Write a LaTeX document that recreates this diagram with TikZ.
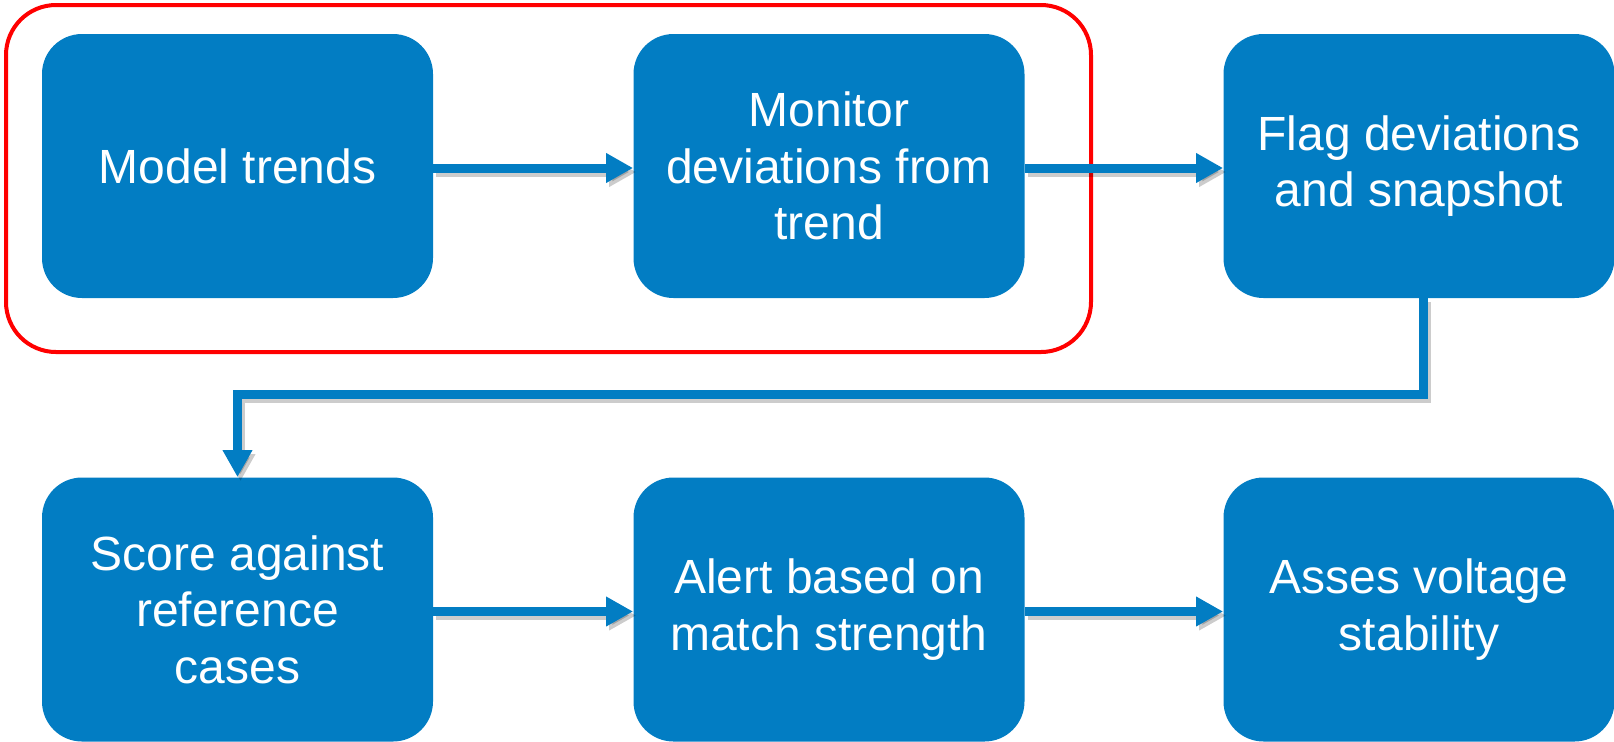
\documentclass[tikz,border=0pt]{standalone}
\usepackage{fontspec}
\setmainfont{Liberation Sans}
\usetikzlibrary{arrows.meta}
\definecolor{boxblue}{RGB}{2,125,195}

\begin{document}
\begin{tikzpicture}[x=0.5pt,y=-0.5pt,
  stepbox/.style={fill=boxblue,rounded corners=20pt,minimum width=195.5pt,
    minimum height=132pt,inner sep=0pt,align=center,text=white,
    font=\fontsize{24}{28.3}\selectfont},
  flow/.style={draw=boxblue,line width=4.5pt,
    -{Triangle[length=13.5pt,width=14pt]},
    preaction={draw=black,opacity=.2,line width=4.5pt,
      -{Triangle[length=13.5pt,width=14pt]},
      transform canvas={shift={(1.5pt,-2pt)}}}}
]
\useasboundingbox (0,0) rectangle (1614,741);
% frame round the first two steps
\draw[red,line width=2pt,rounded corners=25pt] (6,5) rectangle (1091,352);
% top row
\node[stepbox] (trend)   at (237.5,166) {Model trends};
\node[stepbox] (monitor) at (829,166)   {Monitor\\deviations from\\trend};
\node[stepbox] (flag)    at (1419,166)  {Flag deviations\\and snapshot};
% bottom row
\node[stepbox] (score)   at (237.5,609.5) {Score against\\reference\\cases};
\node[stepbox] (alert)   at (829,609.5)   {Alert based on\\match strength};
\node[stepbox] (assess)  at (1419,609.5)  {Asses voltage\\stability};
% connectors
\draw[flow] ([yshift=-1pt]trend.east) -- ([yshift=-1pt]monitor.west);
\draw[flow] ([yshift=-1pt]monitor.east) -- ([yshift=-1pt]flag.west);
\draw[flow] ([xshift=2pt]flag.south) -- ++(0,96) -| (score.north);
\draw[flow] ([yshift=-1pt]score.east) -- ([yshift=-1pt]alert.west);
\draw[flow] ([yshift=-1pt]alert.east) -- ([yshift=-1pt]assess.west);
\end{tikzpicture}
\end{document}
